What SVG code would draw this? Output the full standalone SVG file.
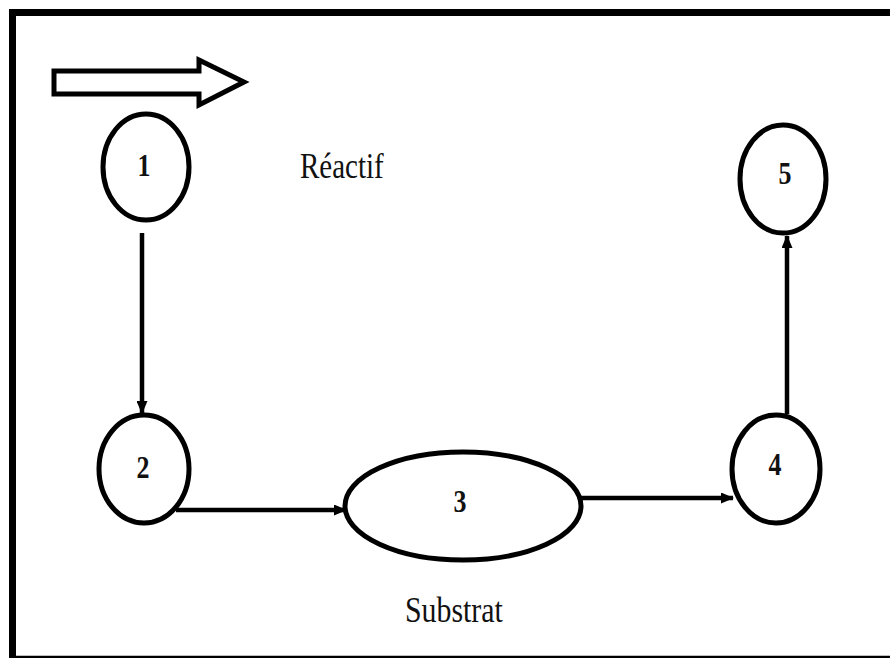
<svg xmlns="http://www.w3.org/2000/svg" width="890" height="658" viewBox="0 0 890 658">
<defs>
<style>
.node{fill:#fff;stroke:#000;stroke-width:5}
.num{font-family:"Liberation Serif",serif;font-weight:bold;font-size:26px;text-anchor:middle;fill:#111}
.lbl{font-family:"Liberation Serif",serif;font-size:29px;fill:#111}
.edge{stroke:#000;stroke-width:4.5;fill:none}
</style>
<marker id="ah" viewBox="0 0 13 11" refX="12" refY="5.5" markerWidth="13" markerHeight="11" markerUnits="userSpaceOnUse" orient="auto">
<path d="M0,0 L13,5.5 L0,11 Z" fill="#000"/>
</marker>
</defs>
<rect width="890" height="658" fill="#fff"/>
<g id="frame">
<path d="M12.5,658 V12.5 H890" fill="none" stroke="#000" stroke-width="7"/>
<line x1="12" y1="657" x2="890" y2="657" stroke="#000" stroke-width="2.5"/>
</g>
<g id="big-arrow">
<polygon points="54,71 199,71 199,60 244,82 199,105 199,94 54,94" fill="#fff" stroke="#000" stroke-width="5"/>
</g>
<g id="edges">
<line class="edge" x1="142" y1="233" x2="142" y2="413" marker-end="url(#ah)"/>
<line class="edge" x1="176" y1="510" x2="346" y2="510" marker-end="url(#ah)"/>
<line class="edge" x1="580" y1="498" x2="733" y2="498" marker-end="url(#ah)"/>
<line class="edge" x1="787" y1="414" x2="787" y2="236" marker-end="url(#ah)"/>
</g>
<g id="n1">
<ellipse class="node" cx="146" cy="167" rx="43" ry="53"/>
<text class="num" transform="translate(144,176) scale(1,1.2)">1</text>
</g>
<g id="n2">
<ellipse class="node" cx="144" cy="469" rx="45" ry="54"/>
<text class="num" transform="translate(143,478) scale(1,1.2)">2</text>
</g>
<g id="n3">
<ellipse class="node" cx="463" cy="506" rx="118" ry="54"/>
<text class="num" transform="translate(460,512) scale(1,1.2)">3</text>
</g>
<g id="n4">
<ellipse class="node" cx="776" cy="469" rx="44" ry="54"/>
<text class="num" transform="translate(775,475) scale(1,1.2)">4</text>
</g>
<g id="n5">
<ellipse class="node" cx="783" cy="179" rx="43" ry="54"/>
<text class="num" transform="translate(785,184) scale(1,1.2)">5</text>
</g>
<g id="labels">
<text class="lbl" transform="translate(300,178) scale(1,1.2)">Réactif</text>
<text class="lbl" transform="translate(405,622) scale(1.03,1.2)">Substrat</text>
</g>
</svg>
